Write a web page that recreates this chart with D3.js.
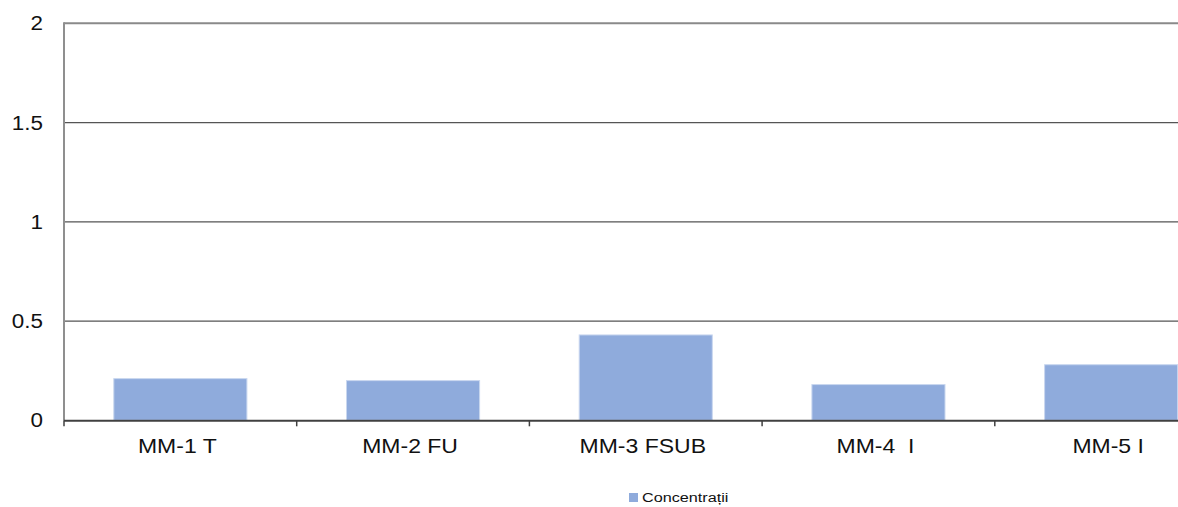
<!DOCTYPE html>
<html><head><meta charset="utf-8">
<script src="https://cdn.jsdelivr.net/npm/d3@7"></script>
<style>body{margin:0;background:#fff;overflow:hidden}svg{display:block;font-family:"Liberation Sans",Arial,sans-serif}</style>
</head><body>
<svg id="c" width="1178" height="507"></svg>
<script>
const categories = ["MM-1 T", "MM-2 FU", "MM-3 FSUB", "MM-4  I", "MM-5 I"];
const values = [0.21, 0.20, 0.43, 0.18, 0.28];
const yTicks = [0, 0.5, 1, 1.5, 2];
const seriesName = "Concentrații";

const svg = d3.select("#c");
const pLeft = 64, pTop = 23.3, pBottom = 420.3, pRight = 1227.5;
const sx = 1.15;
const x = d3.scaleBand().domain(categories).range([pLeft, pRight]).paddingInner(0).paddingOuter(0);
const y = d3.scaleLinear().domain([0, 2]).range([pBottom, pTop]);

// gridlines
svg.append("g").selectAll("line").data(yTicks.filter(d => d > 0)).join("line")
  .attr("x1", pLeft).attr("x2", 1178).attr("y1", d => y(d)).attr("y2", d => y(d))
  .attr("stroke", d => d === 2 ? "#8a8a8a" : "#555").attr("stroke-width", d => d === 2 ? 2 : 1.2);

// bars
const bw = x.bandwidth() * 0.572;
svg.append("g").selectAll("rect").data(values).join("rect")
  .attr("x", (d, i) => x(categories[i]) + (x.bandwidth() - bw) / 2)
  .attr("width", bw)
  .attr("y", d => y(d))
  .attr("height", d => pBottom - y(d))
  .attr("fill", "#8FABDC")
  .attr("stroke", "#c9d7ef").attr("stroke-width", 1);

// left axis
svg.append("line").attr("x1", pLeft).attr("x2", pLeft).attr("y1", pTop - 1).attr("y2", pBottom)
  .attr("stroke", "#8f8f8f").attr("stroke-width", 2);
// bottom axis
svg.append("line").attr("x1", pLeft).attr("x2", 1178).attr("y1", pBottom + 0.5).attr("y2", pBottom + 0.5)
  .attr("stroke", "#404040").attr("stroke-width", 2);
// x ticks
const tickPos = categories.map(c => x(c));
svg.append("g").selectAll("line").data(tickPos).join("line")
  .attr("x1", d => d).attr("x2", d => d).attr("y1", pBottom).attr("y2", pBottom + 6)
  .attr("stroke", "#404040").attr("stroke-width", 1.5);

// y labels
svg.append("g").selectAll("text").data(yTicks).join("text")
  .attr("transform", d => `translate(43,${y(d) + 7}) scale(${sx},1)`)
  .attr("text-anchor", "end").attr("font-size", 19.5).attr("fill", "#111")
  .text(d => d);

// x labels
svg.append("g").selectAll("text").data(categories).join("text")
  .attr("transform", c => `translate(${x(c) + x.bandwidth() / 2 - 3},453) scale(${sx},1)`)
  .attr("text-anchor", "middle").attr("font-size", 20).attr("fill", "#111")
  .style("white-space", "pre")
  .text(c => c);

// legend
svg.append("rect").attr("x", 629).attr("y", 493).attr("width", 9).attr("height", 9).attr("fill", "#8FABDC");
svg.append("text").attr("transform", `translate(642,502) scale(1.2,1)`)
  .attr("font-size", 13.5).attr("fill", "#111").text(seriesName);
</script>
</body></html>
